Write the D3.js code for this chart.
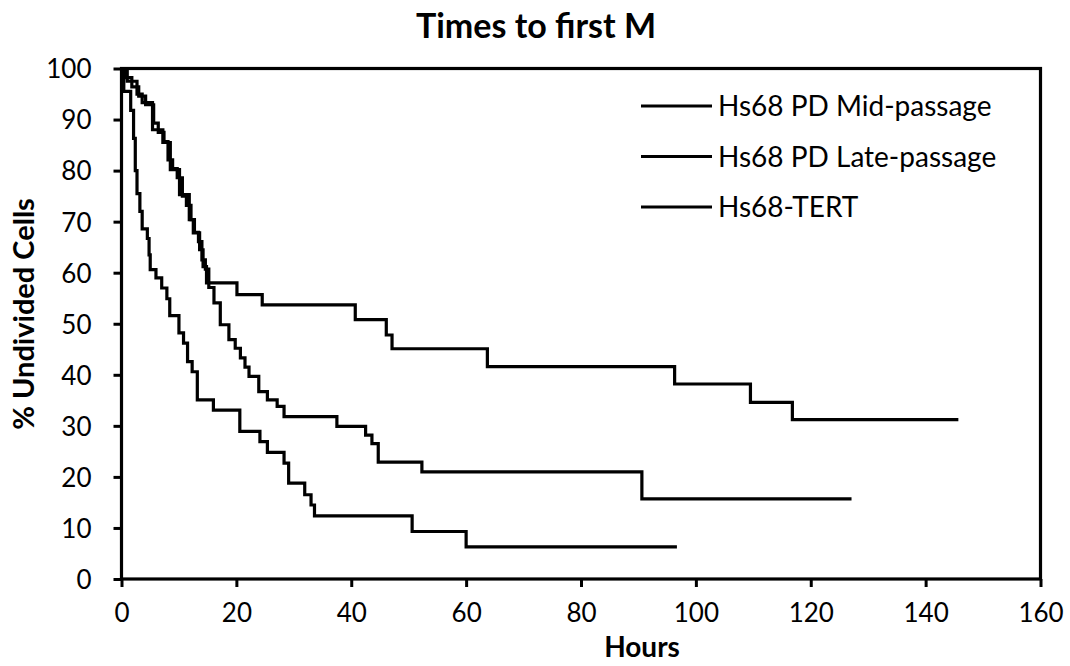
<!DOCTYPE html>
<html>
<head>
<meta charset="utf-8">
<script src="https://cdn.jsdelivr.net/npm/d3@7"></script>
<style>
  body { margin: 0; background: #fff; }
  text { font-family: Lato, "Open Sans", sans-serif; fill: #000; }
</style>
</head>
<body>
<svg width="1070" height="666"></svg>
<script>
// step points: [time the curve drops, % left after the drop]
var seriesNames = ["Hs68 PD Mid-passage", "Hs68 PD Late-passage", "Hs68-TERT"];

var midHours = [0, 1.0, 2.7, 3.6, 5.4, 7.2, 8.5, 10.1, 11.8, 12.5, 13.6, 14.2, 14.8, 20.1, 24.5, 40.7, 46.1, 47.1, 63.7, 96.3, 109.5, 116.8, 145.7];
var midPct = [100, 97.5, 95.0, 93.3, 88.0, 85.5, 80.2, 75.3, 70.4, 67.8, 64.5, 61.2, 58.0, 55.7, 53.7, 50.8, 47.8, 45.1, 41.6, 38.2, 34.6, 31.2, 31.2];

var lateHours = [0, 0.7, 1.8, 3.0, 4.2, 5.6, 6.4, 7.4, 8.1, 8.9, 9.7, 10.6, 11.3, 12.1, 12.7, 13.4, 14.0, 14.6, 15.2, 16.1, 17.2, 18.7, 19.8, 20.7, 21.5, 22.2, 23.9, 25.4, 27.1, 28.3, 37.5, 42.5, 43.6, 44.7, 52.3, 90.6, 127.1];
var latePct = [100, 98.2, 96.4, 94.6, 92.9, 89.3, 87.5, 85.7, 82.1, 80.4, 78.6, 75.0, 73.2, 70.4, 67.9, 66.1, 62.5, 60.7, 57.1, 54.1, 49.8, 46.9, 45.2, 43.3, 41.5, 39.7, 36.7, 35.1, 33.8, 31.8, 29.9, 28.2, 26.5, 22.9, 21.0, 15.7, 15.7];

var tertHours = [0, 0.4, 1.6, 2.1, 2.4, 2.7, 3.2, 3.6, 4.5, 4.8, 5.0, 6.0, 7.0, 7.9, 8.4, 10.0, 10.8, 11.5, 12.3, 13.2, 16.0, 20.6, 24.1, 25.4, 28.3, 29.1, 31.9, 33.0, 33.6, 50.6, 60.0, 96.7];
var tertPct = [100, 95.5, 91.8, 86.3, 80.0, 75.5, 72.0, 68.6, 66.7, 63.5, 60.6, 59.0, 57.0, 54.9, 51.6, 48.2, 46.2, 42.6, 40.6, 35.1, 33.1, 28.9, 26.9, 24.8, 22.7, 18.8, 16.5, 14.5, 12.35, 9.3, 6.3, 6.3];

var xTicks = [0, 20, 40, 60, 80, 100, 120, 140, 160];
var yTicks = [0, 10, 20, 30, 40, 50, 60, 70, 80, 90, 100];

var svg = d3.select("svg"),
  width = +svg.attr("width"),
  height = +svg.attr("height");

var x = d3.scaleLinear().domain([0, 160]).range([121.5, 1040.5]);
var y = d3.scaleLinear().domain([0, 100]).range([579, 68.5]);

var series = [
  { name: seriesNames[0], hours: midHours, pct: midPct },
  { name: seriesNames[1], hours: lateHours, pct: latePct },
  { name: seriesNames[2], hours: tertHours, pct: tertPct }
];

// axes
var xAxis = d3.axisBottom(x).tickValues(xTicks).tickSize(8).tickSizeOuter(0);
var yAxis = d3.axisLeft(y).tickValues(yTicks).tickSize(8).tickPadding(22).tickSizeOuter(0);

var gx = svg.append("g").attr("transform", "translate(0," + y(0) + ")").call(xAxis);
gx.select(".domain").remove();
gx.selectAll("line").attr("stroke", "#000").attr("stroke-width", 3);
gx.selectAll("text")
  .attr("dy", null)
  .attr("y", 43)
  .attr("font-size", 26)
  .attr("font-family", "Lato, sans-serif");

var gy = svg.append("g").attr("transform", "translate(" + x(0) + ",0)").call(yAxis);
gy.select(".domain").remove();
gy.selectAll("line").attr("stroke", "#000").attr("stroke-width", 3);
gy.selectAll("text")
  .attr("dy", "0.36em")
  .attr("font-size", 26)
  .attr("font-family", "Lato, sans-serif");

// plot frame
svg.append("rect")
  .attr("x", x(0))
  .attr("y", y(100))
  .attr("width", x(160) - x(0))
  .attr("height", y(0) - y(100))
  .attr("fill", "none")
  .attr("stroke", "#000")
  .attr("stroke-width", 3.2);

// survival curves
var line = d3.line()
  .x(function (d) { return x(d[0]); })
  .y(function (d) { return y(d[1]); })
  .curve(d3.curveStepAfter);

svg.selectAll(".curve")
  .data(series)
  .enter()
  .append("path")
  .attr("class", "curve")
  .attr("fill", "none")
  .attr("stroke", "#000")
  .attr("stroke-width", 3.2)
  .attr("d", function (s) {
    return line(s.hours.map(function (h, i) { return [h, s.pct[i]]; }));
  });

// legend
var legend = svg.selectAll(".legend")
  .data(series)
  .enter()
  .append("g")
  .attr("class", "legend")
  .attr("transform", function (d, i) { return "translate(641," + (106 + 50.5 * i) + ")"; });

legend.append("line")
  .attr("x1", 0)
  .attr("x2", 71)
  .attr("stroke", "#000")
  .attr("stroke-width", 3.2);

legend.append("text")
  .attr("x", 77)
  .attr("dy", "0.36em")
  .attr("font-size", 28)
  .text(function (d) { return d.name; });

// titles
svg.append("text")
  .attr("x", 536)
  .attr("y", 38)
  .attr("text-anchor", "middle")
  .attr("font-size", 34)
  .attr("font-weight", "bold")
  .text("Times to first M");

svg.append("text")
  .attr("x", 642)
  .attr("y", 657)
  .attr("text-anchor", "middle")
  .attr("font-size", 28)
  .attr("font-weight", "bold")
  .text("Hours");

svg.append("text")
  .attr("transform", "translate(34,314) rotate(-90)")
  .attr("text-anchor", "middle")
  .attr("font-size", 29)
  .attr("font-weight", "bold")
  .text("% Undivided Cells");
</script>
</body>
</html>
